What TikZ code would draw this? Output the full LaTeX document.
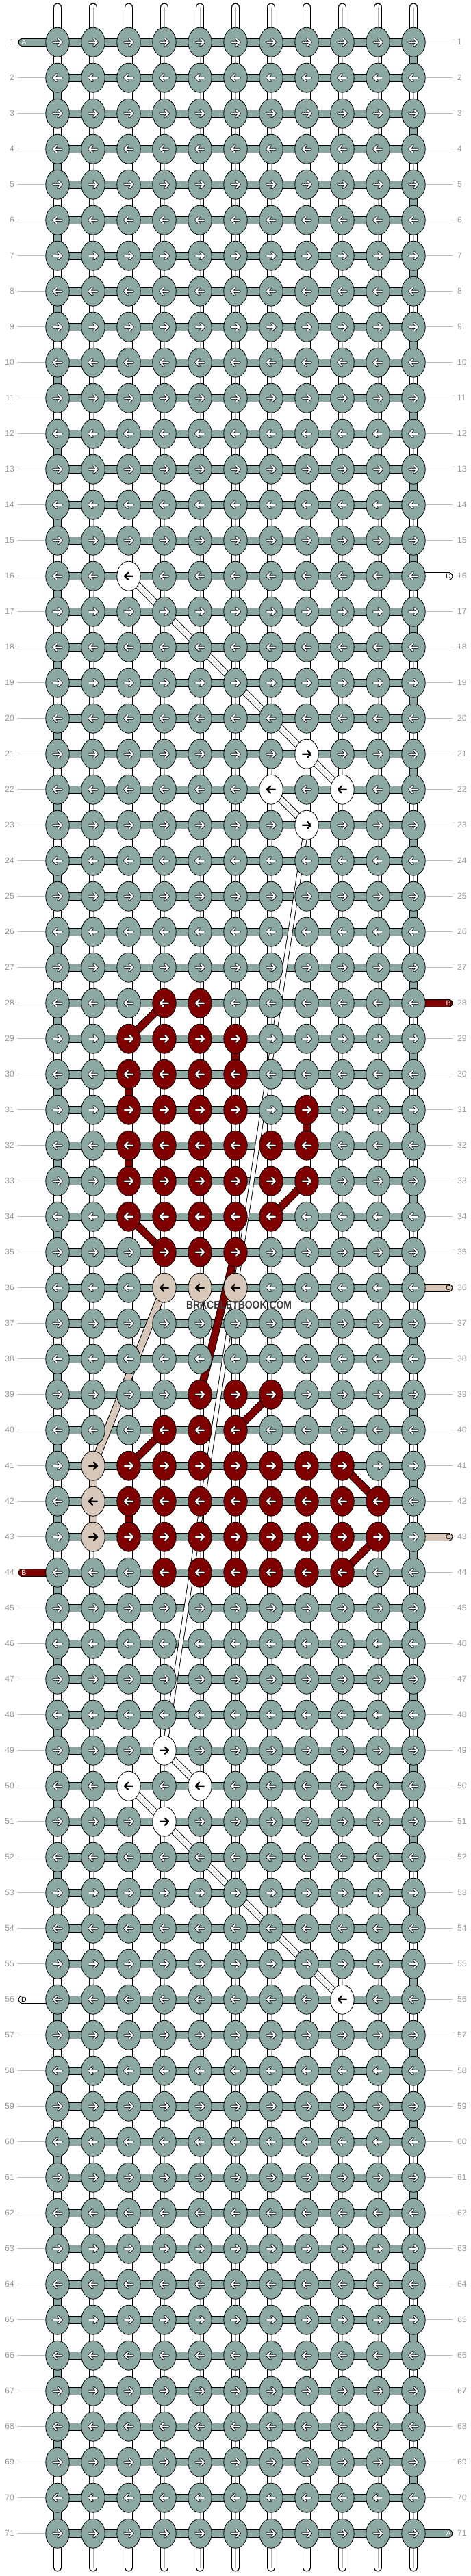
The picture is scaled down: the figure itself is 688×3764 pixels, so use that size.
\documentclass[tikz,border=0pt]{standalone}
\usepackage{fontspec}
\setmainfont{Liberation Sans}
\usetikzlibrary{shapes.geometric}
\pgfdeclarelayer{back}
\pgfsetlayers{back,main}
\definecolor{knotgrey}{HTML}{8CA8A3}
\definecolor{knotred}{HTML}{800000}
\definecolor{knotbeige}{HTML}{D7C8BA}
\definecolor{numgrey}{HTML}{999999}
\definecolor{tickgrey}{HTML}{BBBBBB}
\definecolor{markgrey}{HTML}{3C3C3C}
\begin{document}
\begin{tikzpicture}
    [
      x=1pt, y=-1pt,
      knot/.style={ellipse, draw=black, line width=0.8pt, minimum width=34.4pt, minimum height=43pt, inner sep=0pt},
      knot grey/.style={fill=knotgrey},
      knot red/.style={fill=knotred},
      knot beige/.style={fill=knotbeige},
      knot white/.style={fill=white},
      tip grey/.style={draw=white, line width=2.1pt, line cap=round, line join=round,
        preaction={draw=black, line width=3.6pt, line cap=round, line join=round}},
      tip red/.style={tip grey},
      tip beige/.style={draw=black, line width=2.2pt, line cap=round, line join=round},
      tip white/.style={tip beige},
      warp/.style={draw=white, line width=9.6pt, line cap=round,
        preaction={draw=black, line width=12pt, line cap=round},
        postaction={draw=black!30, line width=0.7pt}},
      band/.style={draw=#1, line width=9.6pt, preaction={draw=black, line width=11.6pt}},
      band/.default=knotgrey,
      tail/.style={draw=#1, line width=9.6pt, line cap=round,
        preaction={draw=black, line width=11.6pt, line cap=round}},
      thread/.style={draw=white, line width=8pt, preaction={draw=black, line width=10pt},
        postaction={draw=black!30, line width=0.6pt}},
      carried/.style={draw=white, line width=5.5pt, preaction={draw=black, line width=7.3pt}},
      rownum/.style={inner sep=0pt, text=numgrey, font=\fontsize{12}{12}\selectfont},
      tick/.style={draw=tickgrey, line width=0.9pt},
      tag/.style={inner sep=0pt, font=\fontsize{10.5}{10.5}\selectfont},
    ]

    \useasboundingbox (0,0) rectangle (688,3764);

    \foreach \r/\a/\b in {28/4/5, 29/3/6, 30/3/6, 31/3/6, 32/3/8, 33/3/8, 34/3/7, 35/4/6,
                          39/5/7, 40/4/6, 41/3/9, 42/3/10, 43/3/10, 44/4/9}
      \foreach \c in {\a,...,\b}
        {\expandafter\xdef\csname kc@\r-\c\endcsname{red}}
    \foreach \r/\c/\k in {31/8/red, 36/4/beige, 36/5/beige, 36/6/beige, 41/2/beige, 42/2/beige, 43/2/beige,
                          16/3/white, 21/8/white, 22/7/white, 22/9/white, 23/8/white,
                          49/4/white, 50/3/white, 50/5/white, 51/4/white, 56/9/white}
      {\expandafter\xdef\csname kc@\r-\c\endcsname{\k}}

    \foreach \r in {1,...,71} {
      \pgfmathtruncatemacro{\s}{isodd(\r) ? 1 : -1}
      \foreach \c in {1,...,11} {
        \ifcsname kc@\r-\c\endcsname
          \edef\kc{\csname kc@\r-\c\endcsname}
        \else
          \def\kc{grey}
        \fi
        \node[knot, knot \kc] (k-\r-\c) at ({32+52*\c}, {9.7+52*\r}) {};
        \begin{scope}[shift={(k-\r-\c.center)}, xscale=\s]
          \draw[tip \kc] (-6,0) -- (6,0) (1,-5) -- (6,0) -- (1,5);
        \end{scope}
      }
    }

    \begin{pgfonlayer}{back}
      \foreach \c in {1,...,11} {
        \coordinate (top-\c) at ({32+52*\c}, 10.5);
        \coordinate (bot-\c) at ({32+52*\c}, 3751.5);
        \draw[warp] (top-\c) -- (bot-\c);
      }
      \foreach \r in {1,...,70} {
        \pgfmathtruncatemacro{\n}{\r+1}
        \pgfmathtruncatemacro{\tcol}{isodd(\r) ? 11 : 1}
        \draw[band] (k-\r-\tcol.center) -- (k-\n-\tcol.center);
      }
      \foreach \r/\c/\k in {29/6/knotred, 30/3/knotred, 31/8/knotred, 32/3/knotred, 42/3/knotred,
                            41/2/knotbeige, 42/2/knotbeige} {
        \pgfmathtruncatemacro{\n}{\r+1}
        \draw[band=\k] (k-\r-\c.center) -- (k-\n-\c.center);
      }
      \foreach \r in {1,...,71}
        \draw[band] (k-\r-1.center) -- (k-\r-11.center);

      \foreach \a/\b/\k in {28-4/29-3/knotred, 34-3/35-4/knotred, 33-8/34-7/knotred, 35-6/39-5/knotred,
                            39-7/40-6/knotred, 40-4/41-3/knotred, 41-9/42-10/knotred, 43-10/44-9/knotred,
                            36-4/41-2/knotbeige}
        \draw[band=\k] (k-\a.center) -- (k-\b.center);
      \foreach \a/\b in {16-3/21-8, 21-8/22-9, 22-7/23-8, 49-4/50-5, 50-3/51-4, 51-4/56-9}
        \draw[thread] (k-\a.center) -- (k-\b.center);
      \draw[carried] (k-23-8.center) -- (k-49-4.center);
    \end{pgfonlayer}

    \foreach \r/\side/\k/\tc/\lab in {1/1/knotgrey/white/A, 71/11/knotgrey/white/A,
                                      28/11/knotred/white/B, 44/1/knotred/white/B,
                                      36/11/knotbeige/black/C, 43/11/knotbeige/black/C,
                                      16/11/white/black/D, 56/1/white/black/D} {
      \pgfmathsetmacro{\ex}{\side==1 ? 32.5 : 655.5}
      \pgfmathsetmacro{\tx}{\side==1 ? 35 : 655}
      \coordinate (end-\r) at (\ex, {9.7+52*\r});
      \begin{pgfonlayer}{back}
        \draw[tail=\k] (k-\r-\side.center) -- (end-\r);
      \end{pgfonlayer}
      \node[tag, text=\tc] (tag-\r) at (\tx, {9.7+52*\r}) {\lab};
    }

    \foreach \r in {1,...,71} {
      \node[rownum, anchor=east] (nl-\r) at (21, {9.7+52*\r}) {\r};
      \node[rownum, anchor=west] (nr-\r) at (668, {9.7+52*\r}) {\r};
      \pgfmathtruncatemacro{\skipleft}{(\r==1)||(\r==44)||(\r==56)}
      \pgfmathtruncatemacro{\skipright}{(\r==16)||(\r==28)||(\r==36)||(\r==43)||(\r==71)}
      \ifnum\skipleft=0 \draw[tick] ([xshift=5pt]nl-\r.east) -- (k-\r-1.west); \fi
      \ifnum\skipright=0 \draw[tick] (k-\r-11.east) -- ([xshift=-7pt]nr-\r.west); \fi
    }

    \node[inner sep=0pt, text=markgrey, font=\bfseries\fontsize{16}{16}\selectfont] (mark) at (349, 1907)
      {\scalebox{0.87}[1]{BRACELETBOOK.COM}};
  \end{tikzpicture}
\end{document}
